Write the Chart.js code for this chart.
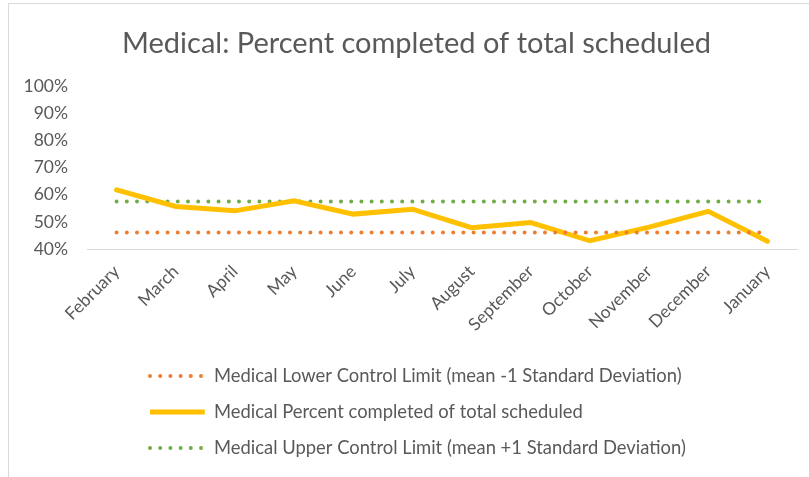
<!DOCTYPE html>
<html>
<head>
<meta charset="utf-8">
<script src="https://cdn.jsdelivr.net/npm/chart.js@4"></script>
<style>
  html, body { margin: 0; padding: 0; background: #fff; }
  #wrap { position: relative; width: 809px; height: 477px; }
  #frame { position: absolute; left: 8px; top: 3px; right: -2px; bottom: -2px; border-left: 1px solid #d9d9d9; border-top: 1px solid #d9d9d9; pointer-events: none; }
  canvas { position: absolute; left: 0; top: 0; }
</style>
</head>
<body>
<div id="wrap">
  <canvas id="c" width="809" height="477"></canvas>
  <div id="frame"></div>
</div>
<script>
const categories = ['February','March','April','May','June','July','August','September','October','November','December','January'];
const lowerLimit = [46.1, 46.1, 46.1, 46.1, 46.1, 46.1, 46.1, 46.1, 46.1, 46.1, 46.1, 46.1];
const percentCompleted = [61.8, 55.7, 54.1, 57.8, 52.9, 54.7, 47.9, 49.8, 43.1, 48.1, 53.9, 42.9];
const upperLimit = [57.5, 57.5, 57.5, 57.5, 57.5, 57.5, 57.5, 57.5, 57.5, 57.5, 57.5, 57.5];
const yTicks = [40, 50, 60, 70, 80, 90, 100];
const seriesNames = [
  'Medical Lower Control Limit (mean -1 Standard Deviation)',
  'Medical Percent completed of total scheduled',
  'Medical Upper Control Limit (mean +1 Standard Deviation)'
];
const titleText = 'Medical: Percent completed of total scheduled';

const FONT = 'Lato, "Open Sans", sans-serif';
const TEXT = '#595959';
const LEGEND_FONT = 18.4;
const LEGEND_PAD = 17.6;

const blockShift = {
  id: 'blockShift',
  afterLayout(chart) {
    const lg = chart.legend;
    if (lg) { lg.left = 150 - lg.options.labels.padding; }
    const tb = chart.titleBlock;
    if (tb) { tb.left += 18; tb.right += 18; }
  }
};

new Chart(document.getElementById('c'), {
  type: 'line',
  data: {
    labels: categories,
    datasets: [
      { label: seriesNames[0], data: lowerLimit, borderColor: '#ED7D31', backgroundColor: '#ED7D31',
        borderWidth: 4, borderDash: [0, 10.2], borderCapStyle: 'round', pointRadius: 0, fill: false, tension: 0 },
      { label: seriesNames[1], data: percentCompleted, borderColor: '#FFC000', backgroundColor: '#FFC000',
        borderWidth: 5, borderCapStyle: 'round', borderJoinStyle: 'miter', pointRadius: 0, fill: false, tension: 0 },
      { label: seriesNames[2], data: upperLimit, borderColor: '#70AD47', backgroundColor: '#70AD47',
        borderWidth: 4, borderDash: [0, 10.2], borderCapStyle: 'round', pointRadius: 0, fill: false, tension: 0 }
    ]
  },
  options: {
    responsive: false,
    animation: false,
    devicePixelRatio: 1,
    layout: { padding: { left: 0, right: 12, top: 0, bottom: 9.8 } },
    plugins: {
      title: {
        display: true, text: titleText, color: TEXT,
        font: { family: FONT, size: 29, weight: 'normal', lineHeight: 1.2 },
        padding: { top: 26, bottom: 25.2 }
      },
      legend: {
        display: true, position: 'bottom', align: 'start',
        labels: {
          color: TEXT, font: { family: FONT, size: LEGEND_FONT },
          usePointStyle: true, pointStyleWidth: 54.8,
          padding: LEGEND_PAD,
          generateLabels(chart) {
            return chart.data.datasets.map((ds, i) => ({
              text: ds.label,
              fontColor: TEXT,
              fillStyle: ds.borderColor,
              strokeStyle: ds.borderColor,
              lineWidth: ds.borderWidth,
              lineDash: ds.borderDash || [],
              lineCap: ds.borderDash ? 'round' : 'butt',
              pointStyle: 'line',
              hidden: false,
              datasetIndex: i
            }));
          }
        }
      },
      tooltip: { enabled: false }
    },
    scales: {
      x: {
        offset: true,
        grid: { display: false, drawTicks: false },
        border: { display: true, color: '#d9d9d9', width: 1 },
        ticks: { color: TEXT, font: { family: FONT, size: 17.5 }, minRotation: 45, maxRotation: 45, padding: 12, autoSkip: false },
        afterFit(s) { s.height = 100; }
      },
      y: {
        min: 40, max: 100,
        grid: { display: false, drawTicks: false },
        border: { display: false },
        afterBuildTicks(s) { s.ticks = yTicks.map(v => ({ value: v })); },
        ticks: { color: TEXT, font: { family: FONT, size: 17.5 }, padding: 19, callback: v => v + '%' },
        afterFit(s) { s.width = 87; }
      }
    }
  },
  plugins: [blockShift]
});
</script>
</body>
</html>
